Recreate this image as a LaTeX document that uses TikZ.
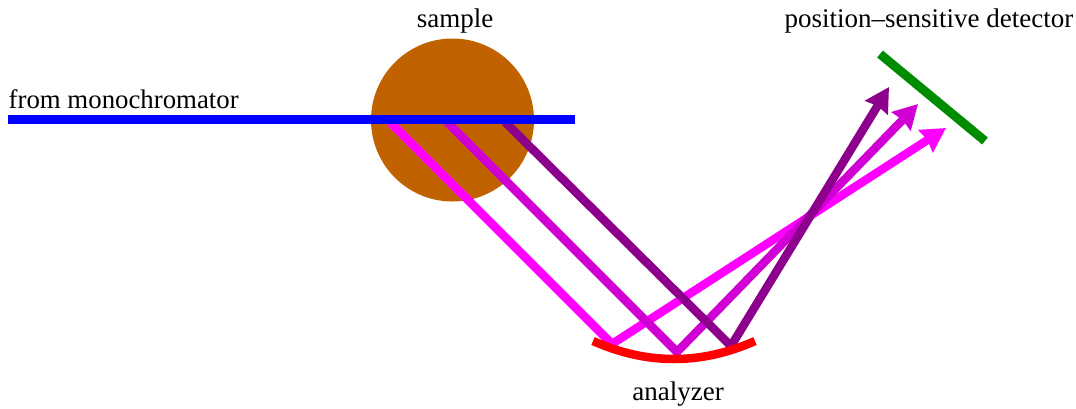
\documentclass[tikz,border=0pt]{standalone}
\usepackage{fontspec}
\setmainfont{Liberation Serif}
\usetikzlibrary{arrows.meta}
\definecolor{samplecol}{RGB}{192,98,0}
\definecolor{raya}{RGB}{255,0,255}
\definecolor{rayb}{RGB}{208,0,212}
\definecolor{rayc}{RGB}{140,0,140}
\definecolor{detcol}{RGB}{0,140,0}
\tikzset{
  px/.style={x=1pt,y=-1pt},
  ray/.style={line width=8.5pt,miter limit=10,-{Stealth[length=24pt,width=26pt,inset=2pt]}},
  lbl/.style={font=\fontsize{27}{27}\selectfont,inner sep=0pt,text=black,anchor=base},
}
\begin{document}
\begin{tikzpicture}[px]
\useasboundingbox (0,0) rectangle (1076,408);
\node[circle,fill=samplecol,minimum size=163pt,inner sep=0pt] (sample) at (452.5,120) {};
\coordinate (sa) at (390,122);
\coordinate (sb) at (447,122);
\coordinate (sc) at (505,122);
\coordinate (ma) at (612,344);
\coordinate (mb) at (677,352);
\coordinate (mc) at (731,346);
\coordinate (ta) at (946,128);
\coordinate (tb) at (918,104);
\coordinate (tc) at (889,87);
\draw[ray,raya] (sa) -- (ma) -- (ta);
\draw[ray,rayb] (sb) -- (mb) -- (tb);
\draw[ray,rayc] (sc) -- (mc) -- (tc);
\coordinate (bl) at (8,119.5);
\coordinate (br) at (575,119.5);
\draw[blue,line width=8.5pt] (bl) -- (br);
\coordinate (al) at (593,341);
\coordinate (ar) at (755,341);
\draw[red,line width=8.5pt] (al) .. controls (647,365) and (701,365) .. (ar);
\coordinate (dl) at (880,54);
\coordinate (dr) at (985,141);
\draw[detcol,line width=9pt] (dl) -- (dr);
\node[lbl] (lsample) at (455,27) {sample};
\node[lbl,anchor=base west,font=\fontsize{26.8}{27}\selectfont] (lmono) at (8.5,108) {from monochromator};
\node[lbl] (lanalyzer) at (678,400) {analyzer};
\node[lbl] (ldet) at (929,27) {position–sensitive detector};
\end{tikzpicture}
\end{document}
